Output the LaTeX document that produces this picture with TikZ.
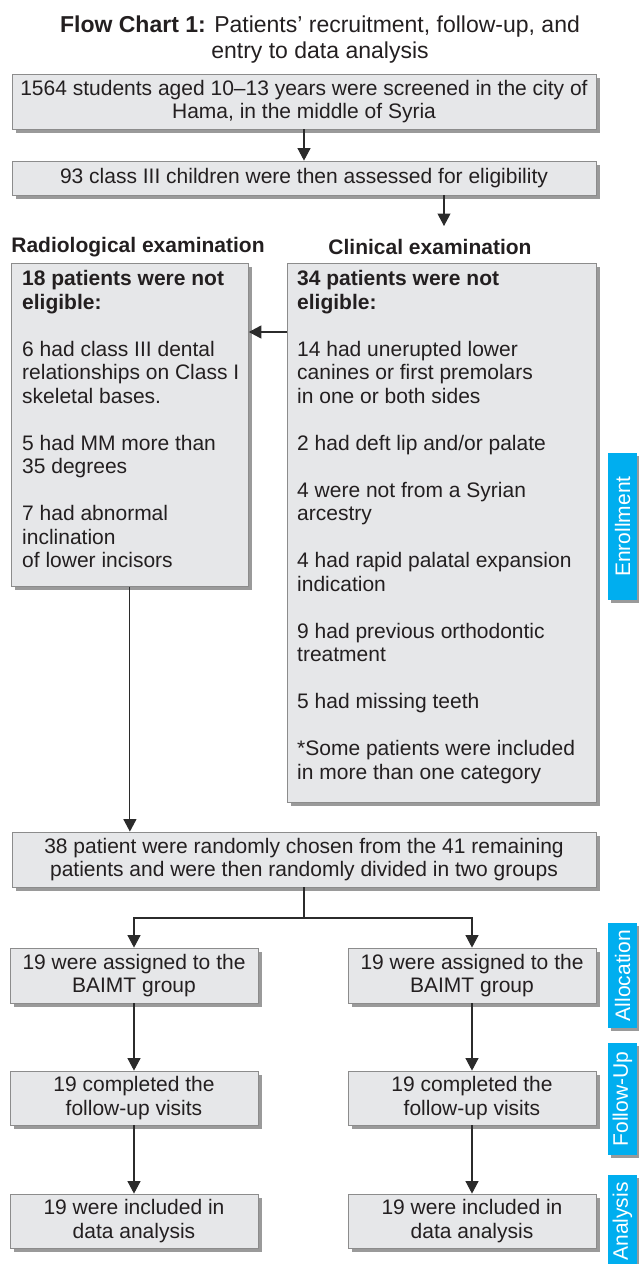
\documentclass[tikz,border=0pt]{standalone}
\usepackage{fontspec}
\setmainfont{Liberation Sans}
\usetikzlibrary{arrows.meta,shadows}
\definecolor{boxfill}{HTML}{E6E7E9}
\definecolor{boxline}{HTML}{8C8C8C}
\definecolor{shadowc}{HTML}{9A9A9A}
\definecolor{tabblue}{HTML}{00AEEF}
\definecolor{arrowc}{HTML}{2B2B2B}
\definecolor{textc}{HTML}{231F20}
\begin{document}
\begin{tikzpicture}[x=1pt,y=-1pt,
  every node/.style={font=\fontsize{21}{23.5}\selectfont, text=textc},
  box/.style={draw=boxline, line width=0.8pt, fill=boxfill,
    drop shadow={shadow xshift=3.5pt, shadow yshift=-3.5pt, fill=shadowc, opacity=1},
    inner sep=0pt, align=center},
  txt/.style={anchor=north west, align=left, inner sep=0pt},
  tabbox/.style={fill=tabblue,
    drop shadow={shadow xshift=3pt, shadow yshift=-3pt, fill=shadowc, opacity=1},
    text=white, rotate=90, inner sep=0pt, minimum height=29pt,
    font=\fontsize{21}{23.5}\selectfont},
  arr/.style={draw=arrowc, line width=1.1pt, -{Triangle[length=12.5pt,width=13pt]}},
  conn/.style={draw=arrowc, line width=1.1pt},
  head/.style={font=\fontsize{21}{23.5}\selectfont\bfseries}]
\useasboundingbox (0,0) rectangle (638,1264);

% title
\node[align=center, font=\fontsize{23}{26}\selectfont] (title) at (320,40)
  {\textbf{Flow Chart 1:} Patients’ recruitment, follow-up, and\\entry to data analysis};

% top boxes
\node[box, minimum width=584, minimum height=55] (b1) at (304,101.5)
  {1564 students aged 10--13 years were screened in the city of\\Hama, in the middle of Syria};
\node[box, minimum width=584, minimum height=34] (b2) at (304,178)
  {93 class III children were then assessed for eligibility};
\draw[arr] (b1.south) -- (b2.north);

% headers
\node[head] (rhead) at (138,247) {Radiological examination};
\node[head] (chead) at (430,247) {Clinical examination};
\coordinate (a2end) at (444,226);
\draw[arr] (b2.south -| a2end) -- (a2end);

% exclusion boxes
\node[box, minimum width=237, minimum height=323, anchor=north west] (lbox) at (11,263) {};
\node[txt] (ltxt) at (22,270.5) {%
  \textbf{18 patients were not}\\\textbf{eligible:}\\[23.5pt]
  6 had class III dental\\relationships on Class I\\skeletal bases.\\[23.5pt]
  5 had MM more than\\35 degrees\\[23.5pt]
  7 had abnormal\\inclination\\of lower incisors};

\node[box, minimum width=309, minimum height=539, anchor=north west] (rbox) at (287,263) {};
\node[txt] (rtxt) at (297,270.5) {%
  \textbf{34 patients were not}\\\textbf{eligible:}\\[23.5pt]
  14 had unerupted lower\\canines or first premolars\\in one or both sides\\[23.5pt]
  2 had deft lip and/or palate\\[23.5pt]
  4 were not from a Syrian\\arcestry\\[23.5pt]
  4 had rapid palatal expansion\\indication\\[23.5pt]
  9 had previous orthodontic\\treatment\\[23.5pt]
  5 had missing teeth\\[23.5pt]
  *Some patients were included\\in more than one category};

\coordinate (hy) at (0,332);
\draw[arr] (rbox.west |- hy) -- (lbox.east |- hy);

% randomisation
\node[box, minimum width=584, minimum height=55] (rand) at (304,859.5)
  {38 patient were randomly chosen from the 41 remaining\\patients and were then randomly divided in two groups};
\draw[arr] (lbox.south) -- (rand.north -| lbox.south);

% allocation
\node[box, minimum width=248, minimum height=55] (al) at (134,975.5)
  {19 were assigned to the\\BAIMT group};
\node[box, minimum width=248, minimum height=55] (ar) at (472,975.5)
  {19 were assigned to the\\BAIMT group};
\coordinate (split) at (304,918);
\draw[conn] (rand.south -| split) -- (split);
\draw[arr] (split) -| (al.north);
\draw[arr] (split) -| (ar.north);

% follow-up
\node[box, minimum width=248, minimum height=54] (fl) at (134,1098)
  {19 completed the\\follow-up visits};
\node[box, minimum width=248, minimum height=54] (fr) at (472,1098)
  {19 completed the\\follow-up visits};
\draw[arr] (al.south) -- (fl.north);
\draw[arr] (ar.south) -- (fr.north);

% analysis
\node[box, minimum width=248, minimum height=54] (nl) at (134,1221)
  {19 were included in\\data analysis};
\node[box, minimum width=248, minimum height=54] (nr) at (472,1221)
  {19 were included in\\data analysis};
\draw[arr] (fl.south) -- (nl.north);
\draw[arr] (fr.south) -- (nr.north);

% side tabs
\node[tabbox, minimum width=147] (tenr) at (622.5,526.5) {Enrollment};
\node[tabbox, minimum width=105] (tall) at (622.5,975.5) {Allocation};
\node[tabbox, minimum width=112] (tfol) at (622.5,1099) {Follow-Up};
\node[tabbox, minimum width=93] (tana) at (622.5,1221.5) {Analysis};
\end{tikzpicture}
\end{document}
